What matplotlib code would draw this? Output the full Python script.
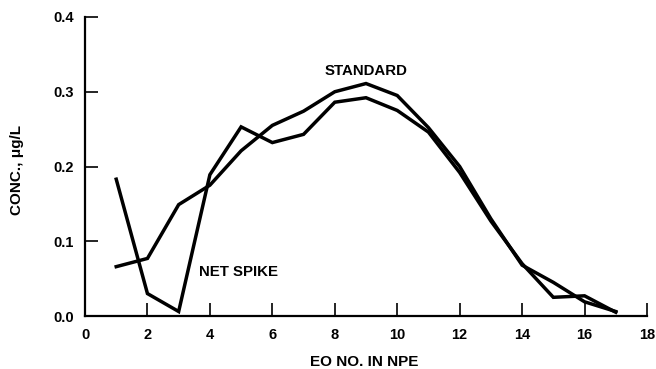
import matplotlib
matplotlib.use("Agg")
import matplotlib.pyplot as plt

eo = [1, 2, 3, 4, 5, 6, 7, 8, 9, 10, 11, 12, 13, 14, 15, 16, 17]
net_spike = [0.183, 0.030, 0.006, 0.189, 0.253, 0.232, 0.243, 0.286, 0.292, 0.275, 0.246, 0.192, 0.127, 0.070, 0.025, 0.027, 0.005]
standard = [0.066, 0.077, 0.149, 0.175, 0.221, 0.255, 0.274, 0.300, 0.311, 0.295, 0.252, 0.200, 0.130, 0.068, 0.045, 0.019, 0.006]
xticks = [0, 2, 4, 6, 8, 10, 12, 14, 16, 18]
yticks = [0.0, 0.1, 0.2, 0.3, 0.4]
ytick_labels = ["0.0", "0.1", "0.2", "0.3", "0.4"]

plt.rcParams['font.family'] = ['Liberation Sans', 'DejaVu Sans']
plt.rcParams['font.weight'] = 'bold'

fig = plt.figure(figsize=(6.56, 3.69), dpi=100)
ax = fig.add_axes([85/656, 1-316/369, (647-85)/656, (316-17)/369])

ax.plot(eo, net_spike, color='black', lw=2.5, solid_joinstyle='miter')
ax.plot(eo, standard, color='black', lw=2.5, solid_joinstyle='miter')

ax.set_xlim(0, 18)
ax.set_ylim(0, 0.4)
ax.set_xticks(xticks)
ax.set_xticklabels([str(t) for t in xticks])
ax.set_yticks(yticks)
ax.set_yticklabels(ytick_labels)

for s in ['top', 'right']:
    ax.spines[s].set_visible(False)
for s in ['left', 'bottom']:
    ax.spines[s].set_linewidth(1.6)

ax.tick_params(axis='both', direction='in', length=9.5, width=1.2, labelsize=10.5)
ax.tick_params(axis='y', pad=8)
ax.tick_params(axis='x', pad=8.5)
for lbl in ax.get_xticklabels() + ax.get_yticklabels():
    lbl.set_fontweight('bold')

ax.text(9.0, 0.328, "STANDARD", ha='center', va='center', fontsize=10.8, fontweight='bold')
ax.text(3.65, 0.059, "NET SPIKE", ha='left', va='center', fontsize=10.8, fontweight='bold')

fig.text(364/656, 1-362/369, "EO NO. IN NPE", ha='center', va='center', fontsize=11, fontweight='bold')
fig.text(17/656, 1-170/369, "CONC., μg/L", ha='center', va='center', rotation=90, fontsize=11, fontweight='bold')

fig.savefig("out.png", dpi=100)
